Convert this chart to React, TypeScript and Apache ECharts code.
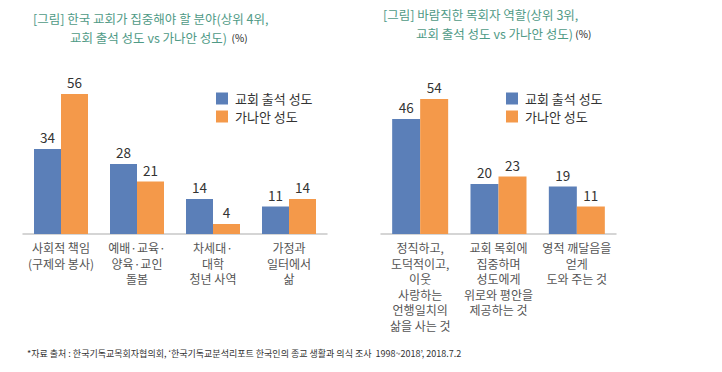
import React, { useEffect, useRef } from "react";
import * as echarts from "echarts";

const leftCategories = ["사회적 책임\n(구제와 봉사)", "예배·교육·\n양육·교인\n돌봄", "차세대·\n대학\n청년 사역", "가정과\n일터에서\n삶"];
const leftAttend = [34, 28, 14, 11];
const leftCanaan = [56, 21, 4, 14];

const rightCategories = ["정직하고,\n도덕적이고,\n이웃\n사랑하는\n언행일치의\n삶을 사는 것", "교회 목회에\n집중하며\n성도에게\n위로와 평안을\n제공하는 것", "영적 깨달음을\n얻게\n도와 주는 것"];
const rightAttend = [46, 20, 19];
const rightCanaan = [54, 23, 11];

const seriesNames = ["교회 출석 성도", "가나안 성도"];

const BLUE = "#5b7fb8";
const ORANGE = "#f4994a";
const TITLE = "#4f9a86";
const FONT = "'Noto Sans CJK KR', 'Noto Sans', sans-serif";

export default function App() {
  const ref = useRef<HTMLDivElement>(null);
  useEffect(() => {
    if (!ref.current) return;
    const chart = echarts.init(ref.current, undefined, { renderer: "svg" });
    const label = {
      show: true,
      position: "top" as const,
      distance: 5,
      color: "#333",
      fontSize: 13.5,
      fontFamily: FONT,
    };
    const xAxisCommon = {
      type: "category" as const,
      axisLine: { lineStyle: { color: "#c8c8c8", width: 1.5 } },
      axisTick: { show: false },
      axisLabel: {
        color: "#555",
        fontSize: 12,
        lineHeight: 15.5,
        margin: 6,
        fontFamily: FONT,
        interval: 0,
        verticalAlign: "top" as const,
      },
    };
    const yAxisCommon = {
      type: "value" as const,
      min: 0,
      max: 60,
      show: false,
      splitLine: { show: false },
    };
    const legendCommon = {
      orient: "vertical" as const,
      itemWidth: 12,
      itemHeight: 12,
      itemGap: 5,
      icon: "rect",
      textStyle: { color: "#333", fontSize: 13, fontFamily: FONT, padding: [0, 0, 0, 2] },
      data: seriesNames,
    };
    const titleRich = {
      a: { fill: TITLE, fontSize: 12.5, fontFamily: FONT },
      b: { fill: "#222", fontSize: 10, fontFamily: FONT },
    };
    chart.setOption({
      animation: false,
      textStyle: { fontFamily: FONT },
      grid: [
        { left: 23, right: 395, top: 84, bottom: 138 },
        { left: 381, right: 106, top: 84, bottom: 138 },
      ],
      xAxis: [
        { ...xAxisCommon, gridIndex: 0, data: leftCategories },
        { ...xAxisCommon, gridIndex: 1, data: rightCategories },
      ],
      yAxis: [
        { ...yAxisCommon, gridIndex: 0 },
        { ...yAxisCommon, gridIndex: 1 },
      ],
      legend: [
        { ...legendCommon, left: 211, top: 87 },
        { ...legendCommon, left: 501, top: 87 },
      ],
      series: [
        { name: seriesNames[0], type: "bar", xAxisIndex: 0, yAxisIndex: 0, data: leftAttend, barWidth: 27, barGap: "0%", itemStyle: { color: BLUE }, label },
        { name: seriesNames[1], type: "bar", xAxisIndex: 0, yAxisIndex: 0, data: leftCanaan, barWidth: 27, barGap: "0%", itemStyle: { color: ORANGE }, label },
        { name: seriesNames[0], type: "bar", xAxisIndex: 1, yAxisIndex: 1, data: rightAttend, barWidth: 28, barGap: "0%", itemStyle: { color: BLUE }, label },
        { name: seriesNames[1], type: "bar", xAxisIndex: 1, yAxisIndex: 1, data: rightCanaan, barWidth: 28, barGap: "0%", itemStyle: { color: ORANGE }, label },
      ],
      graphic: [
        { type: "text", left: 33, top: 12, style: { text: "{a|[그림] 한국 교회가 집중해야 할 분야(상위 4위,}", rich: titleRich } },
        { type: "text", left: 70, top: 31, style: { text: "{a|교회 출석 성도 vs 가나안 성도)}{b|  (%)}", rich: titleRich } },
        { type: "text", left: 383, top: 8, style: { text: "{a|[그림] 바람직한 목회자 역할(상위 3위,}", rich: titleRich } },
        { type: "text", left: 416, top: 27, style: { text: "{a|교회 출석 성도 vs 가나안 성도)}{b| (%)}", rich: titleRich } },
        {
          type: "text", left: 27, top: 349,
          style: {
            text: "*자료 출처 : 한국기독교목회자협의회, ‘한국기독교분석리포트 한국인의 종교 생활과 의식 조사  1998~2018’, 2018.7.2",
            fill: "#333", fontSize: 9, fontFamily: FONT,
          },
        },
      ],
    });
    return () => chart.dispose();
  }, []);
  return <div ref={ref} style={{ position: "fixed", left: 0, top: 0, width: 722, height: 372, background: "#fff" }} />;
}
